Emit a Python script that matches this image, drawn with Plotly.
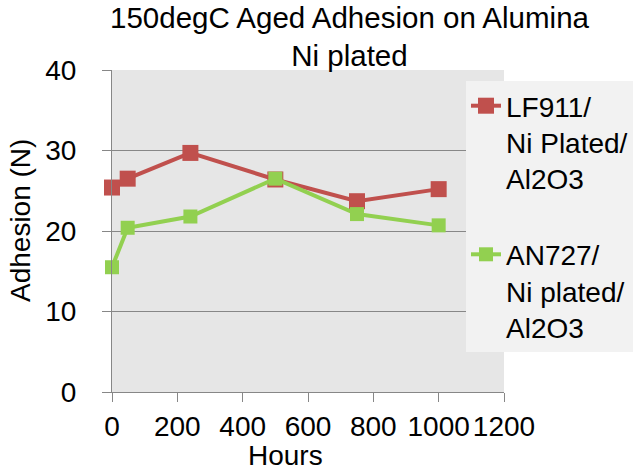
import plotly.graph_objects as go

hours_lf = [0, 48, 240, 500, 750, 1000]
adh_lf = [25.4, 26.5, 29.7, 26.4, 23.7, 25.2]
hours_an = [0, 48, 240, 500, 750, 1000]
adh_an = [15.5, 20.4, 21.8, 26.5, 22.1, 20.7]

name_lf = "LF911/<br>Ni Plated/<br>Al2O3<br> "
name_an = "AN727/<br>Ni plated/<br>Al2O3"
title_text = "150degC Aged Adhesion on Alumina<br>Ni plated"
x_title = "Hours"
y_title = "Adhesion (N)"

RED = "#c0504d"
GREEN = "#92d050"
GRID = "#878787"
FONT = "Liberation Sans, Arial, sans-serif"

fig = go.Figure()
fig.add_trace(go.Scatter(x=hours_lf, y=adh_lf, name=name_lf, mode="lines+markers",
                         line=dict(color=RED, width=4), cliponaxis=False,
                         marker=dict(symbol="square", size=16, color=RED)))
fig.add_trace(go.Scatter(x=hours_an, y=adh_an, name=name_an, mode="lines+markers",
                         line=dict(color=GREEN, width=4), cliponaxis=False,
                         marker=dict(symbol="square", size=14, color=GREEN)))

W, H = 633, 470
L, R, T, B = 112, 129, 70, 78
pw, ph = W - L - R, H - T - B

def px_x(p):
    return (p - L) / pw

def px_y(p):
    return (H - B - p) / ph

fig.update_layout(
    width=W, height=H,
    margin=dict(l=L, r=R, t=T, b=B, pad=0, autoexpand=False),
    paper_bgcolor="white",
    plot_bgcolor="#e6e6e6",
    font=dict(family=FONT, size=28, color="black"),
    showlegend=True,
    legend=dict(x=px_x(466), y=px_y(81), xanchor="left", yanchor="top",
                bgcolor="#f2f2f2", borderwidth=0, valign="top",
                font=dict(size=28, family=FONT), tracegroupgap=0),
    xaxis=dict(range=[0, 1200], dtick=200, tick0=0, showgrid=False, zeroline=False,
               showline=True, linecolor=GRID, linewidth=1, automargin=False,
               ticks="outside", ticklen=9, tickcolor=GRID, tickangle=0,
               ticklabelstandoff=0, tickfont=dict(size=28)),
    yaxis=dict(range=[0, 40], dtick=10, tick0=0, showgrid=True, gridcolor=GRID,
               gridwidth=1, zeroline=False, showline=True, linecolor=GRID, linewidth=1,
               automargin=False,
               ticks="outside", ticklen=9, tickcolor=GRID,
               ticklabelstandoff=20, tickfont=dict(size=28)),
    annotations=[
        dict(text=title_text, x=px_x(350), y=px_y(74), xref="paper", yref="paper",
             xanchor="center", yanchor="bottom", showarrow=False, font=dict(size=29.5)),
        dict(text=x_title, x=px_x(285), y=px_y(455), xref="paper", yref="paper",
             xanchor="center", yanchor="middle", showarrow=False, font=dict(size=28)),
        dict(text=y_title, x=px_x(20), y=px_y(221), xref="paper", yref="paper",
             xanchor="center", yanchor="middle", textangle=-90, showarrow=False,
             font=dict(size=28)),
    ],
)

fig.write_html("out.html")
